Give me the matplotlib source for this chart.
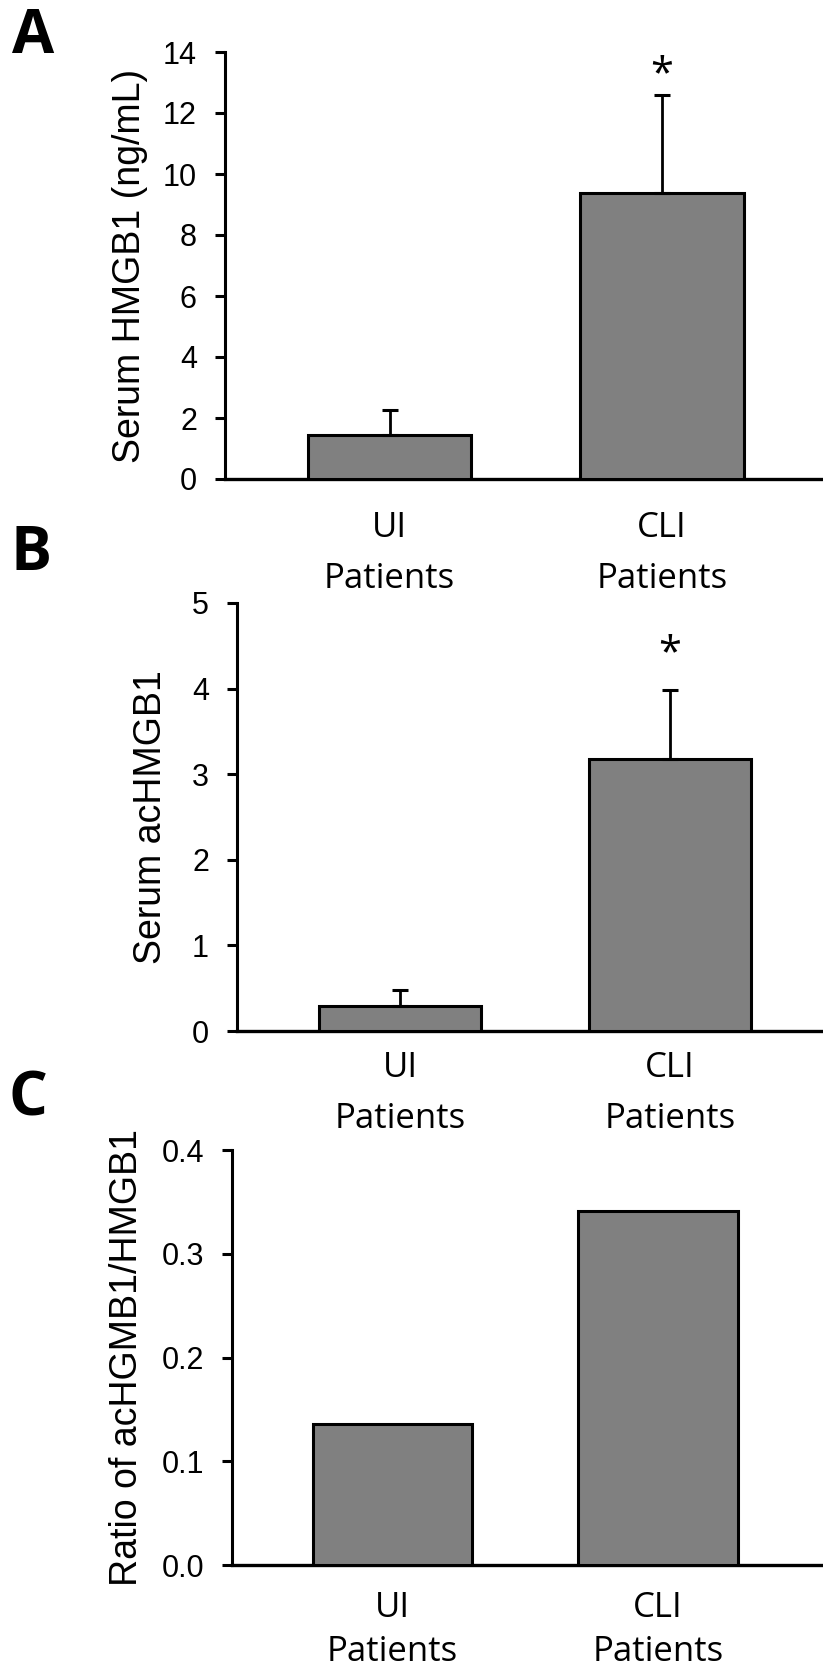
import matplotlib
matplotlib.use("Agg")
import matplotlib.pyplot as plt
import numpy as np

# ---- data ----
groups = ["UI", "CLI"]
group_sub = "Patients"

hmgb1_mean = [1.45, 9.38]
hmgb1_err = [0.80, 3.21]

achmgb1_mean = [0.29, 3.18]
achmgb1_err = [0.19, 0.80]

ratio_mean = [0.136, 0.341]

letters = ["A", "B", "C"]
ylabels = ["Serum HMGB1 (ng/mL)", "Serum acHMGB1", "Ratio of acHGMB1/HMGB1"]
yticks_a = [0, 2, 4, 6, 8, 10, 12, 14]
yticks_b = [0, 1, 2, 3, 4, 5]
yticks_c = [0.0, 0.1, 0.2, 0.3, 0.4]
signif_a = [False, True]
signif_b = [False, True]

BAR = "#808080"
W, H = 823, 1667

plt.rcParams["font.family"] = ["Liberation Sans", "DejaVu Sans"]

fig = plt.figure(figsize=(W / 100, H / 100), dpi=100)


def panel(spine_x, top, bottom, c0, step):
    # axes placed in pixel units, right edge runs off the figure like the original
    ax = fig.add_axes([spine_x / W, 1 - bottom / H, 1 - spine_x / W, (bottom - top) / H])
    ax.set_xlim((spine_x - c0) / step, (W - c0) / step)
    for s in ("top", "right"):
        ax.spines[s].set_visible(False)
    ax.spines["left"].set_linewidth(2.2)
    ax.spines["bottom"].set_linewidth(2.4)
    ax.tick_params(axis="y", direction="out", length=7.2, width=2.2, pad=13, labelsize=22)
    return ax


def draw(ax, means, errs, yticks, fmt, ylabel, lab_x, xpad, lsp, signif=None, star_off=0):
    x = np.arange(len(groups))
    ax.bar(x, means, width=0.6, color=BAR, edgecolor="black", linewidth=2.2, zorder=3)
    if errs is not None:
        ax.errorbar(x, means, yerr=[np.zeros(len(errs)), errs], fmt="none", ecolor="black",
                    elinewidth=2.0, capsize=6, capthick=2.2, zorder=4)
    if signif is not None:
        for xi, m, e, s in zip(x, means, errs, signif):
            if s:
                ax.annotate("*", xy=(xi, m + e), xytext=(0, star_off), textcoords="offset points",
                            ha="center", va="top", fontsize=30, family="Open Sans")
    ax.set_ylim(yticks[0], yticks[-1])
    ax.set_yticks(yticks)
    ax.set_yticklabels([fmt.format(v) for v in yticks])
    ax.set_xticks(x)
    ax.set_xticklabels([f"{g}\n{group_sub}" for g in groups], family="Open Sans",
                       fontsize=25, linespacing=lsp)
    ax.tick_params(axis="x", length=0, pad=xpad)
    ax.set_ylabel(ylabel, fontsize=27, va="center")
    ax.yaxis.set_label_coords(lab_x, 0.5)


axA = panel(225, 52, 479, 389.5, 272.5)
draw(axA, hmgb1_mean, hmgb1_err, yticks_a, "{:d}", ylabels[0], -0.159, 23.0, 1.66,
     signif_a, star_off=29)

axB = panel(237, 603, 1031, 400, 270)
draw(axB, achmgb1_mean, achmgb1_err, yticks_b, "{:d}", ylabels[1], -0.146, 14.4, 1.66,
     signif_b, star_off=41)

axC = panel(232, 1150, 1565, 392.5, 265.5)
draw(axC, ratio_mean, None, yticks_c, "{:.1f}", ylabels[2], -0.177, 18.4, 1.40)

for letter, (lx, ly) in zip(letters, [(12, 7), (10, 524), (9, 1069)]):
    fig.text(lx / W, 1 - ly / H, letter, ha="left", va="top", fontsize=44,
             fontweight="bold", family="Open Sans")

fig.savefig("out.png", dpi=100, facecolor="white")
